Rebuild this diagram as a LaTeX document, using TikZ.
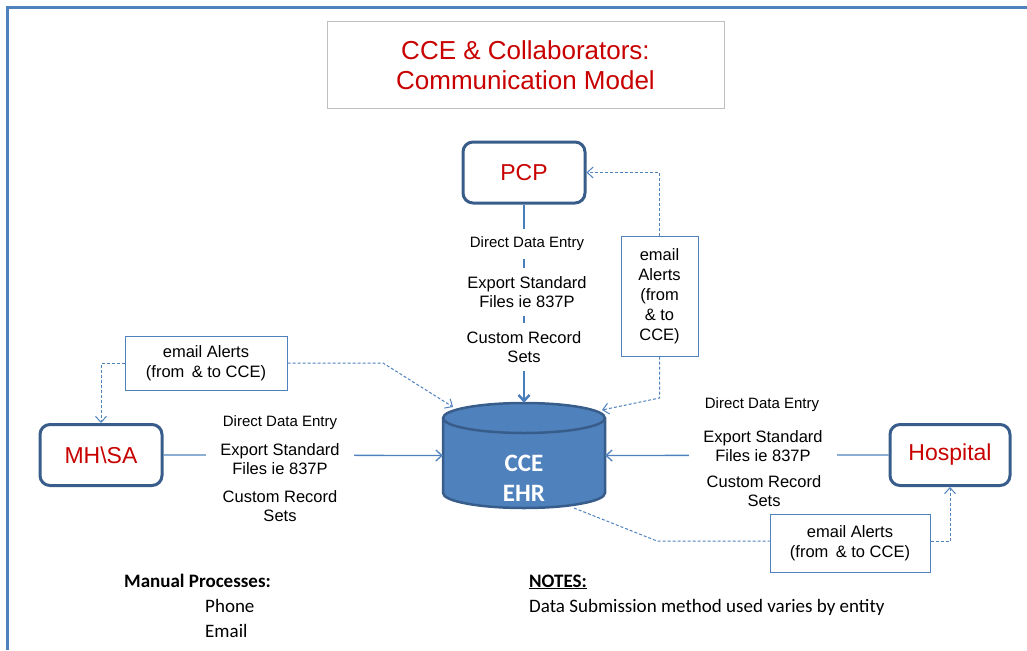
\documentclass[tikz,border=0pt]{standalone}
\usepackage{fontspec}
\setmainfont{Liberation Sans}
\newfontfamily\calfont{Carlito}
\usetikzlibrary{arrows.meta}
\definecolor{framec}{RGB}{79,129,189}
\definecolor{boxc}{RGB}{56,93,138}
\definecolor{linec}{RGB}{74,126,187}
\definecolor{redt}{RGB}{200,0,0}
\definecolor{grayb}{RGB}{191,191,191}
\definecolor{cylf}{RGB}{79,129,189}
\tikzset{
  entity/.style={draw=boxc, line width=3pt, rounded corners=10pt, minimum width=122pt,
    minimum height=61pt, inner sep=0pt, text=redt, font=\fontsize{23}{27}\selectfont},
  mailbox/.style={draw=framec, line width=1pt, fill=white, align=center,
    font=\fontsize{16.5}{20}\selectfont, inner sep=0pt},
  lbl/.style={fill=white, align=center, font=\fontsize{16.5}{19}\selectfont,
    inner xsep=3pt, inner ysep=8pt},
  ddelbl/.style={lbl, font=\fontsize{15}{17}\selectfont},
  dashline/.style={draw=framec, dashed, dash pattern=on 3pt off 2pt, line width=1pt},
  vtip/.style={-{Straight Barb[length=6pt,width=11pt]}},
  notes/.style={font=\calfont\fontsize{19}{22}\selectfont, anchor=base west, inner sep=0pt},
  noteshead/.style={notes, font=\calfont\bfseries\fontsize{19}{22}\selectfont}
}
\begin{document}
\begin{tikzpicture}[x=1pt,y=-1pt]
\useasboundingbox (0,0) rectangle (1027,650);
% frame
\draw[framec, line width=3pt] (7,650) -- (7,8) -- (1027,8);
% title
\node[draw=grayb, line width=1pt, minimum width=397pt, minimum height=87pt, inner sep=0pt,
  align=center, text=redt, font=\fontsize{26}{30}\selectfont] (title) at (525.5,65.5)
  {CCE \& Collaborators:\\Communication Model};
% entities
\node[entity] (pcp) at (524,172.5) {PCP};
\node[entity] (mhsa) at (101,455) {MH\textbackslash SA};
\node[entity, minimum width=120pt] (hosp) at (950,455) {Hospital};
% cylinder
\node[minimum width=162pt, minimum height=105pt, inner sep=0pt] (cyl) at (524,455.5) {};
\filldraw[fill=cylf, draw=boxc, line width=2.5pt]
  (443,418) -- (443,493) arc[start angle=180, end angle=360, x radius=81pt, y radius=15pt]
  -- (605,418) arc[start angle=0, end angle=180, x radius=81pt, y radius=15pt] -- cycle;
\draw[boxc, line width=2.5pt] (443,418) arc[start angle=180, end angle=360, x radius=81pt, y radius=15pt];
\node[text=white, align=center, font=\calfont\bfseries\fontsize{25}{30}\selectfont] (cyltext) at (524,478) {CCE\\EHR};
% email boxes
\node[mailbox, minimum width=162pt, minimum height=54pt] (ealL) at (206,363) {email Alerts\\(from \,\& to CCE)};
\node[mailbox, minimum width=77pt, minimum height=120pt] (ealR) at (659.5,296) {email\\Alerts\\(from\\\& to\\CCE)};
\node[mailbox, minimum width=160pt, minimum height=58pt] (ealH) at (850,543) {email Alerts\\(from \,\& to CCE)};
\coordinate (cylTL) at (453,407);
\coordinate (cylTR) at (602,410);
\coordinate (cylBR) at (574,508);
% solid connectors
\draw[linec, line width=2.5pt, vtip] (pcp.south) -- (cyl.north);
\draw[framec, line width=1.3pt, vtip] (mhsa.east) -- (cyl.west);
\draw[framec, line width=1.3pt, vtip] (hosp.west) -- (cyl.east);
% dashed connectors
\draw[dashline, vtip] (ealL.west) -| (mhsa.north);
\draw[dashline, vtip] (ealL.east) -- (383,363) -- (cylTL);
\draw[dashline, vtip] (ealR.north) |- (pcp.east);
\draw[dashline, vtip] (ealR.south) -- (659.5,398) -- (cylTR);
\draw[dashline] (cylBR) -- (657,541) -- (ealH.west |- 0,541);
\draw[dashline, vtip] (ealH.east |- 0,541) -| (hosp.south);
% labels on PCP line
\node[ddelbl] (pdde) at (527,244) {Direct Data Entry};
\node[lbl] (pexp) at (527,292) {Export Standard\\Files ie 837P};
\node[lbl] (pcus) at (524,347) {Custom Record\\Sets};
% labels on MH\SA line
\node[ddelbl] (mdde) at (280,423) {Direct Data Entry};
\node[lbl, inner xsep=14pt] (mexp) at (280,459) {Export Standard\\Files ie 837P};
\node[lbl] (mcus) at (280,506) {Custom Record\\Sets};
% labels on Hospital line
\node[ddelbl] (hdde) at (762,405) {Direct Data Entry};
\node[lbl, inner xsep=14pt] (hexp) at (763,446) {Export Standard\\Files ie 837P};
\node[lbl, fill=none, inner ysep=2pt] (hcus) at (764,491) {Custom Record\\Sets};
% notes
\node[noteshead] (manual) at (124,587) {Manual Processes:};
\node[notes] (phone) at (205,612) {Phone};
\node[notes] (email) at (205,637) {Email};
\node[noteshead] (notesh) at (529,587) {\underline{NOTES:}};
\node[notes] (notet) at (529,612) {Data Submission method used varies by entity};
\end{tikzpicture}
\end{document}
